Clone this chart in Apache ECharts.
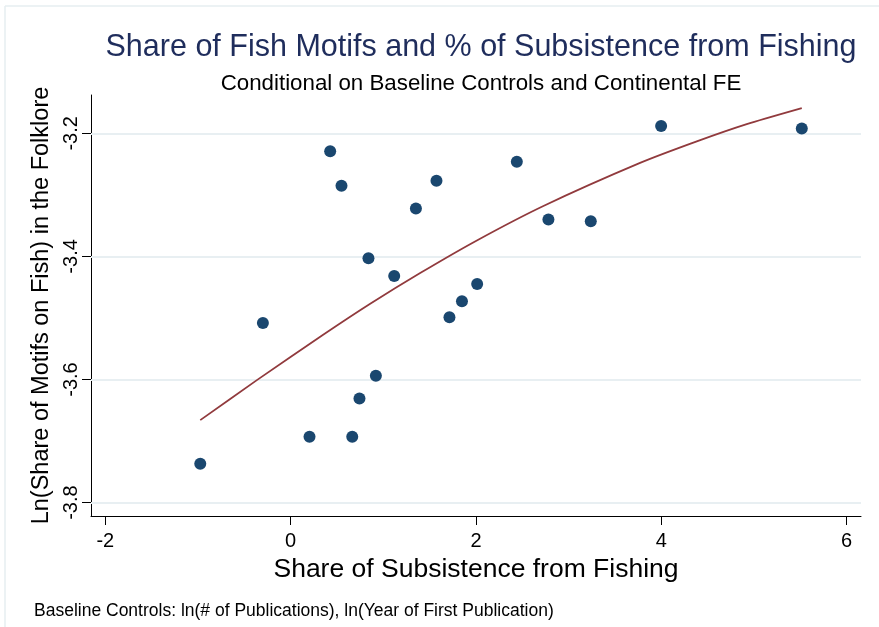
<!DOCTYPE html>
<html>
<head>
<meta charset="utf-8">
<script src="https://cdn.jsdelivr.net/npm/echarts@6/dist/echarts.min.js"></script>
<style>
html,body{margin:0;padding:0;background:#fff;}
#chart{width:879px;height:627px;}
</style>
</head>
<body>
<div id="chart"></div>
<script>
// Scatter points
var pointX = [-0.975, -0.299, 0.204, 0.427, 0.549, 0.665, 0.743, 0.840, 0.920, 1.118,
              1.352, 1.574, 1.714, 1.849, 2.013, 2.441, 2.782, 3.239, 3.998, 5.516];
var pointY = [-3.737, -3.508, -3.693, -3.229, -3.285, -3.693, -3.631, -3.403, -3.594, -3.432,
              -3.322, -3.277, -3.499, -3.473, -3.445, -3.246, -3.340, -3.343, -3.188, -3.192];
// Fitted curve
var fitX = [-0.975, -0.364, 0.355, 0.859, 1.398, 2.010, 2.728, 3.771, 4.383, 4.922, 5.516];
var fitY = [-3.666, -3.601, -3.527, -3.477, -3.427, -3.374, -3.318, -3.248, -3.213, -3.185, -3.159];
// Tick labels
var xTicks = [-2, 0, 2, 4, 6];
var yTicks = [-3.8, -3.6, -3.4, -3.2];

var titleText = 'Share of Fish Motifs and % of Subsistence from Fishing';
var subtitleText = 'Conditional on Baseline Controls and Continental FE';
var xTitle = 'Share of Subsistence from Fishing';
var yTitle = 'Ln(Share of Motifs on Fish) in the Folklore';
var noteText = 'Baseline Controls: ln(# of Publications), ln(Year of First Publication)';

var FONT = '"Liberation Sans", Arial, sans-serif';

var scatterData = pointX.map(function (x, i) { return [x, pointY[i]]; });
var fitData = fitX.map(function (x, i) { return [x, fitY[i]]; });

var chart = echarts.init(document.getElementById('chart'), null, {renderer: 'canvas'});
chart.setOption({
  backgroundColor: '#ffffff',
  animation: false,
  textStyle: {fontFamily: FONT},
  title: [
    {text: titleText, left: 476, top: 27, textAlign: 'center',
     textStyle: {fontFamily: FONT, fontSize: 30.5, fontWeight: 'normal', color: '#1f2d5c'}},
    {text: subtitleText, left: 476, top: 68, textAlign: 'center',
     textStyle: {fontFamily: FONT, fontSize: 22.3, fontWeight: 'normal', color: '#000'}},
    {text: noteText, left: 29, top: 597,
     textStyle: {fontFamily: FONT, fontSize: 17.5, fontWeight: 'normal', color: '#000'}}
  ],
  graphic: [
    {type: 'line', shape: {x1: 5, y1: 6, x2: 879, y2: 6}, style: {stroke: '#e6eef0', lineWidth: 1.5}},
    {type: 'line', shape: {x1: 5, y1: 6, x2: 5, y2: 627}, style: {stroke: '#e6eef0', lineWidth: 1.5}}
  ],
  grid: {left: 91, top: 95, right: 18, bottom: 111, containLabel: false},
  xAxis: {
    type: 'value',
    min: -2.154, max: 6.155,
    name: xTitle,
    nameLocation: 'middle',
    nameGap: 36,
    nameTextStyle: {fontFamily: FONT, fontSize: 26.5, color: '#000'},
    axisLine: {show: true, onZero: false, lineStyle: {color: '#000', width: 1}},
    axisTick: {show: true, length: 9, customValues: xTicks, lineStyle: {color: '#000'}},
    axisLabel: {show: true, customValues: xTicks, fontFamily: FONT, fontSize: 20, color: '#000', margin: 15},
    splitLine: {show: false}
  },
  yAxis: {
    type: 'value',
    min: -3.8218, max: -3.1377,
    name: yTitle,
    nameLocation: 'middle',
    nameGap: 36,
    nameRotate: 90,
    nameTextStyle: {fontFamily: FONT, fontSize: 23.5, color: '#000'},
    axisLine: {show: true, onZero: false, lineStyle: {color: '#000', width: 1}},
    axisTick: {show: true, length: 9, customValues: yTicks, lineStyle: {color: '#000'}},
    axisLabel: {show: true, customValues: yTicks, rotate: 90, fontFamily: FONT, fontSize: 20, color: '#000', margin: 10,
      formatter: function (v) { return v.toFixed(1); }},
    splitLine: {show: false}
  },
  series: [
    {
      type: 'line',
      data: fitData,
      smooth: 0.2,
      showSymbol: false,
      symbol: 'none',
      lineStyle: {color: '#913a3d', width: 1.8},
      z: 3,
      markLine: {
        silent: true,
        symbol: 'none',
        label: {show: false},
        lineStyle: {color: '#e8eff2', width: 2, type: 'solid'},
        data: yTicks.map(function (v) { return {yAxis: v}; }),
        z: 1
      }
    },
    {
      type: 'scatter',
      data: scatterData,
      symbol: 'circle',
      symbolSize: 12,
      itemStyle: {color: '#1a476f', opacity: 1},
      z: 4
    }
  ]
});
</script>
</body>
</html>
